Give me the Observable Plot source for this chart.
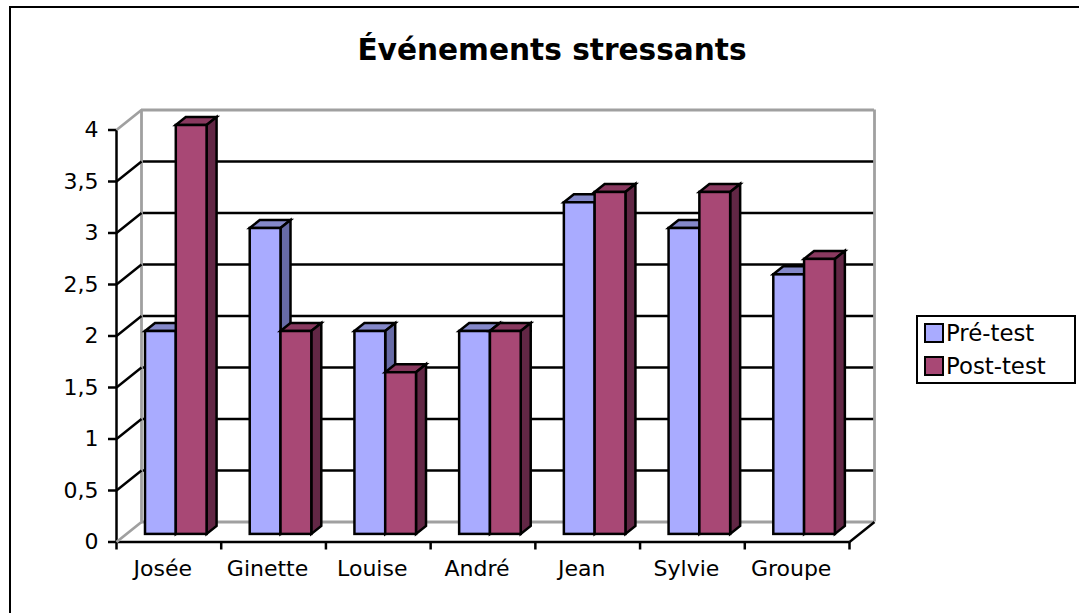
<!DOCTYPE html>
<html>
<head>
<meta charset="utf-8">
<script src="https://cdn.jsdelivr.net/npm/d3@7"></script>
<script src="https://cdn.jsdelivr.net/npm/@observablehq/plot@0.6"></script>
<style>
html,body{margin:0;padding:0;background:#fff;}
#page{position:relative;width:1079px;height:613px;overflow:hidden;font-family:"DejaVu Sans",sans-serif;color:#000;}
#border{position:absolute;left:9px;top:5.5px;width:1080px;height:620px;border-left:2.5px solid #000;border-top:2.5px solid #000;box-sizing:content-box;}
#chart{position:absolute;left:0;top:0;}
#chart svg{display:block;background:transparent;}
#legend{position:absolute;left:916px;top:315px;width:156px;height:65px;border:2px solid #000;background:#fff;font-size:22.8px;}
.row{position:absolute;left:6px;display:flex;align-items:center;height:20px;line-height:20px;white-space:nowrap;}
.sw{display:inline-block;width:16px;height:16px;border:2px solid #000;margin-right:2px;}
</style>
</head>
<body>
<div id="page">
<div id="border"></div>
<div id="chart"></div>
<div id="legend"></div>
</div>
<script>
const title = "Événements stressants";
const categories = ["Josée","Ginette","Louise","André","Jean","Sylvie","Groupe"];
const preTest = [2,3,2,2,3.25,3,2.55];
const postTest = [4,2,1.6,2,3.35,3.35,2.7];
const seriesNames = ["Pré-test","Post-test"];
const yTicks = [0,0.5,1,1.5,2,2.5,3,3.5,4];
const faceColors = ["#a9abff","#a84875"];
const topColors = ["#8488c9","#89395f"];
const sideColors = ["#676ba6","#622745"];
const wallGrey = "#a0a0a0";
const lineWidth = 2.5;

// projection of the 3D floor, in scale units
const depthX = 25/104.7, depthY = 20/103;
const barDepthX = 10/104.7, barDepthY = 8/103;
const barFloor = 0.03;

function depthFaces(i){
  return (index, scales, values, dimensions, context, next) => {
    const g = next(index, scales, values, dimensions, context);
    const ddx = scales.x(barDepthX) - scales.x(0);
    const ddy = scales.y(barDepthY) - scales.y(0);
    const {x1:X1, x2:X2, y1:Y1, y2:Y2} = values;
    const ns = "http://www.w3.org/2000/svg";
    const holder = document.createElementNS(ns,"g");
    holder.setAttribute("stroke","#000");
    holder.setAttribute("stroke-width",lineWidth);
    for (const k of index){
      const xa = X1[k], xb = X2[k], yt = Math.min(Y1[k],Y2[k]), yb = Math.max(Y1[k],Y2[k]);
      const top = document.createElementNS(ns,"polygon");
      top.setAttribute("points",`${xa},${yt} ${xa+ddx},${yt+ddy} ${xb+ddx},${yt+ddy} ${xb},${yt}`);
      top.setAttribute("fill",topColors[i]);
      const side = document.createElementNS(ns,"polygon");
      side.setAttribute("points",`${xb},${yt} ${xb+ddx},${yt+ddy} ${xb+ddx},${yb+ddy} ${xb},${yb}`);
      side.setAttribute("fill",sideColors[i]);
      holder.append(top,side);
    }
    g.insertBefore(holder,g.firstChild);
    return g;
  };
}

const barEdges = [[0.277,0.571],[0.571,0.865]];
function bars(vals,i){
  return Plot.rectY(vals,{
    x1:(d,k)=>k+barEdges[i][0],
    x2:(d,k)=>k+barEdges[i][1],
    y1:()=>barFloor,
    y2:d=>d,
    fill:faceColors[i],
    stroke:"#000",
    strokeWidth:lineWidth,
    dy:-4.5,
    render:depthFaces(i)
  });
}

const inner = yTicks.slice(1,-1);
const plot = Plot.plot({
  width:1079,height:613,
  marginLeft:116,marginRight:230,marginTop:129.5,marginBottom:71.5,
  style:{fontFamily:"'DejaVu Sans',sans-serif",background:"transparent",color:"#000"},
  x:{domain:[0,7],axis:null},
  y:{domain:[0,4],axis:null},
  marks:[
    // back wall
    Plot.ruleY(inner,{y:d=>d+depthY,x1:depthX,x2:7+depthX,stroke:"#000",strokeWidth:lineWidth}),
    Plot.ruleY([depthY,4+depthY],{x1:depthX,x2:7+depthX,stroke:wallGrey,strokeWidth:2.8}),
    Plot.ruleX([depthX,7+depthX],{y1:depthY,y2:4+depthY,stroke:wallGrey,strokeWidth:2.8}),
    // floor and side wall
    Plot.link(inner,{x1:0,x2:depthX,y1:d=>d,y2:d=>d+depthY,stroke:"#000",strokeWidth:lineWidth}),
    Plot.link([7],{x1:d=>d,x2:d=>d+depthX,y1:0,y2:depthY,stroke:"#000",strokeWidth:lineWidth}),
    // bars
    bars(preTest,0),
    bars(postTest,1),
    // axes
    Plot.axisY({ticks:yTicks,tickSize:8,tickPadding:10,fontSize:22,stroke:"#000",strokeWidth:lineWidth,strokeOpacity:1,label:null,anchor:"left",
      tickFormat:d=>String(d).replace(".",",")}),
    Plot.axisX({ticks:d3.range(0,8),tickSize:8,tickFormat:()=>"",stroke:"#000",strokeWidth:lineWidth,strokeOpacity:1,label:null,anchor:"bottom"}),
    Plot.ruleX([0],{y1:0,y2:4,stroke:"#000",strokeWidth:lineWidth}),
    Plot.ruleY([0],{x1:0,x2:7,stroke:"#000",strokeWidth:lineWidth}),
    Plot.link([0],{x1:0,x2:depthX,y1:d=>d,y2:d=>d+depthY,stroke:wallGrey,strokeWidth:2.8}),
    Plot.link([4],{x1:0,x2:depthX,y1:d=>d,y2:d=>d+depthY,stroke:wallGrey,strokeWidth:2.8}),
    // category labels
    Plot.text(categories,{x:(d,i)=>i+0.5,y:0,text:d=>d,dx:-6,dy:27,fontSize:22,fill:"#000"}),
    // title
    Plot.text([title],{x:3.5,y:4,text:d=>d,dx:69,dy:-79,fontSize:29.6,fontWeight:"bold",fill:"#000"})
  ]
});
document.getElementById("chart").append(plot);

const legend = document.getElementById("legend");
seriesNames.forEach((n,i)=>{
  const r = document.createElement("div");
  r.className="row"; r.style.top=(6+i*32.5)+"px";
  const s = document.createElement("span"); s.className="sw"; s.style.background=faceColors[i];
  r.append(s, document.createTextNode(n));
  legend.append(r);
});
</script>
</body>
</html>
